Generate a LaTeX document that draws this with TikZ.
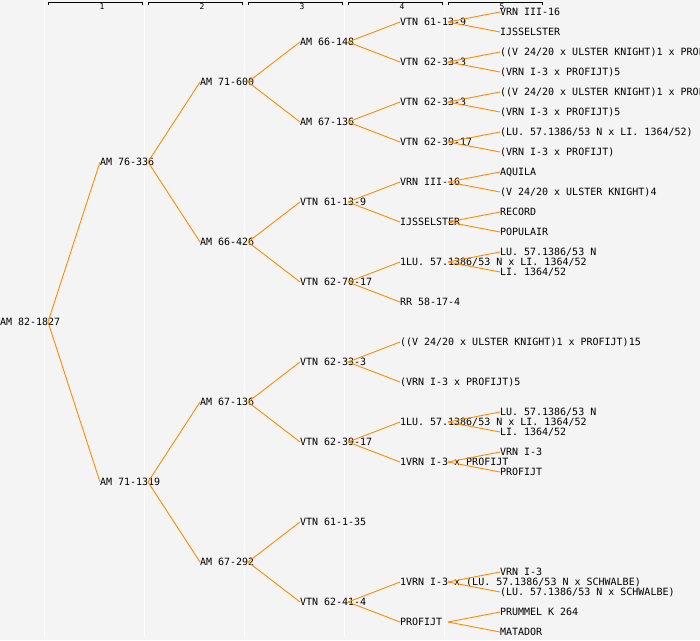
\documentclass[tikz,border=0pt]{standalone}
\usepackage{fontspec}
\setmonofont{DejaVu Sans Mono}
\definecolor{bgc}{RGB}{244,244,244}
\definecolor{ped}{RGB}{255,140,0}
\newcommand\pedlink[2]{\draw[link] ([xshift=48pt]#1.west) -- (#2.west);}
\begin{document}
\begin{tikzpicture}[x=1pt,y=-1pt,
  lbl/.style={anchor=west,inner sep=0pt,outer sep=0pt,font=\ttfamily\fontsize{10}{12}\selectfont,text height=7pt,text depth=0pt},
  hdr/.style={inner sep=0pt,font=\ttfamily\fontsize{8}{9}\selectfont},
  link/.style={draw=ped,line width=0.9pt},
  sep/.style={draw=white,line width=1pt}]
\useasboundingbox (0,0) rectangle (700,640);
\clip (0,0) rectangle (700,640);
\fill[bgc] (0,0) rectangle (700,640);
\foreach \x in {44.8,144.8,244.8,344.8,444.8} \draw[sep] (\x,0) -- (\x,637);
\foreach \i in {1,...,5} {
  \draw[black,line width=0.9pt] ({100*\i-51.5},5) -- ({100*\i-51.5},2) -- ({100*\i+42.5},2) -- ({100*\i+42.5},5);
  \node[hdr] (h\i) at ({100*\i+2},6.8) {\i};
}
% generation 0
\node[lbl] (r) at (0,322) {AM 82-1827};
% generation 1
\node[lbl] (r0) at (100,162) {AM 76-336};
\node[lbl] (r1) at (100,482) {AM 71-1319};
% generation 2
\node[lbl] (r00) at (200,82) {AM 71-600};
\node[lbl] (r01) at (200,242) {AM 66-426};
\node[lbl] (r10) at (200,402) {AM 67-136};
\node[lbl] (r11) at (200,562) {AM 67-292};
% generation 3
\node[lbl] (r000) at (300,42) {AM 66-148};
\node[lbl] (r001) at (300,122) {AM 67-136};
\node[lbl] (r010) at (300,202) {VTN 61-13-9};
\node[lbl] (r011) at (300,282) {VTN 62-70-17};
\node[lbl] (r100) at (300,362) {VTN 62-33-3};
\node[lbl] (r101) at (300,442) {VTN 62-39-17};
\node[lbl] (r110) at (300,522) {VTN 61-1-35};
\node[lbl] (r111) at (300,602) {VTN 62-41-4};
% generation 4
\node[lbl] (r0000) at (400,22) {VTN 61-13-9};
\node[lbl] (r0001) at (400,62) {VTN 62-33-3};
\node[lbl] (r0010) at (400,102) {VTN 62-33-3};
\node[lbl] (r0011) at (400,142) {VTN 62-39-17};
\node[lbl] (r0100) at (400,182) {VRN III-16};
\node[lbl] (r0101) at (400,222) {IJSSELSTER};
\node[lbl] (r0110) at (400,262) {1LU. 57.1386/53 N x LI. 1364/52};
\node[lbl] (r0111) at (400,302) {RR 58-17-4};
\node[lbl] (r1000) at (400,342) {((V 24/20 x ULSTER KNIGHT)1 x PROFIJT)15};
\node[lbl] (r1001) at (400,382) {(VRN I-3 x PROFIJT)5};
\node[lbl] (r1010) at (400,422) {1LU. 57.1386/53 N x LI. 1364/52};
\node[lbl] (r1011) at (400,462) {1VRN I-3 x PROFIJT};
\node[lbl] (r1110) at (400,582) {1VRN I-3 x (LU. 57.1386/53 N x SCHWALBE)};
\node[lbl] (r1111) at (400,622) {PROFIJT};
% generation 5
\node[lbl] (r00000) at (500,12) {VRN III-16};
\node[lbl] (r00001) at (500,32) {IJSSELSTER};
\node[lbl] (r00010) at (500,52) {((V 24/20 x ULSTER KNIGHT)1 x PROFIJT)15};
\node[lbl] (r00011) at (500,72) {(VRN I-3 x PROFIJT)5};
\node[lbl] (r00100) at (500,92) {((V 24/20 x ULSTER KNIGHT)1 x PROFIJT)15};
\node[lbl] (r00101) at (500,112) {(VRN I-3 x PROFIJT)5};
\node[lbl] (r00110) at (500,132) {(LU. 57.1386/53 N x LI. 1364/52)};
\node[lbl] (r00111) at (500,152) {(VRN I-3 x PROFIJT)};
\node[lbl] (r01000) at (500,172) {AQUILA};
\node[lbl] (r01001) at (500,192) {(V 24/20 x ULSTER KNIGHT)4};
\node[lbl] (r01010) at (500,212) {RECORD};
\node[lbl] (r01011) at (500,232) {POPULAIR};
\node[lbl] (r01100) at (500,252) {LU. 57.1386/53 N};
\node[lbl] (r01101) at (500,272) {LI. 1364/52};
\node[lbl] (r10100) at (500,412) {LU. 57.1386/53 N};
\node[lbl] (r10101) at (500,432) {LI. 1364/52};
\node[lbl] (r10110) at (500,452) {VRN I-3};
\node[lbl] (r10111) at (500,472) {PROFIJT};
\node[lbl] (r11100) at (500,572) {VRN I-3};
\node[lbl] (r11101) at (500,592) {(LU. 57.1386/53 N x SCHWALBE)};
\node[lbl] (r11110) at (500,612) {PRUMMEL K 264};
\node[lbl] (r11111) at (500,632) {MATADOR};
% connectors
\foreach \p/\c in {r/r0,r/r1,
  r0/r00,r0/r01,r1/r10,r1/r11,
  r00/r000,r00/r001,r01/r010,r01/r011,r10/r100,r10/r101,r11/r110,r11/r111,
  r000/r0000,r000/r0001,r001/r0010,r001/r0011,r010/r0100,r010/r0101,r011/r0110,r011/r0111,
  r100/r1000,r100/r1001,r101/r1010,r101/r1011,r111/r1110,r111/r1111,
  r0000/r00000,r0000/r00001,r0001/r00010,r0001/r00011,r0010/r00100,r0010/r00101,
  r0011/r00110,r0011/r00111,r0100/r01000,r0100/r01001,r0101/r01010,r0101/r01011,
  r0110/r01100,r0110/r01101,r1010/r10100,r1010/r10101,r1011/r10110,r1011/r10111,
  r1110/r11100,r1110/r11101,r1111/r11110,r1111/r11111}
  {\pedlink{\p}{\c}}
\end{tikzpicture}
\end{document}
